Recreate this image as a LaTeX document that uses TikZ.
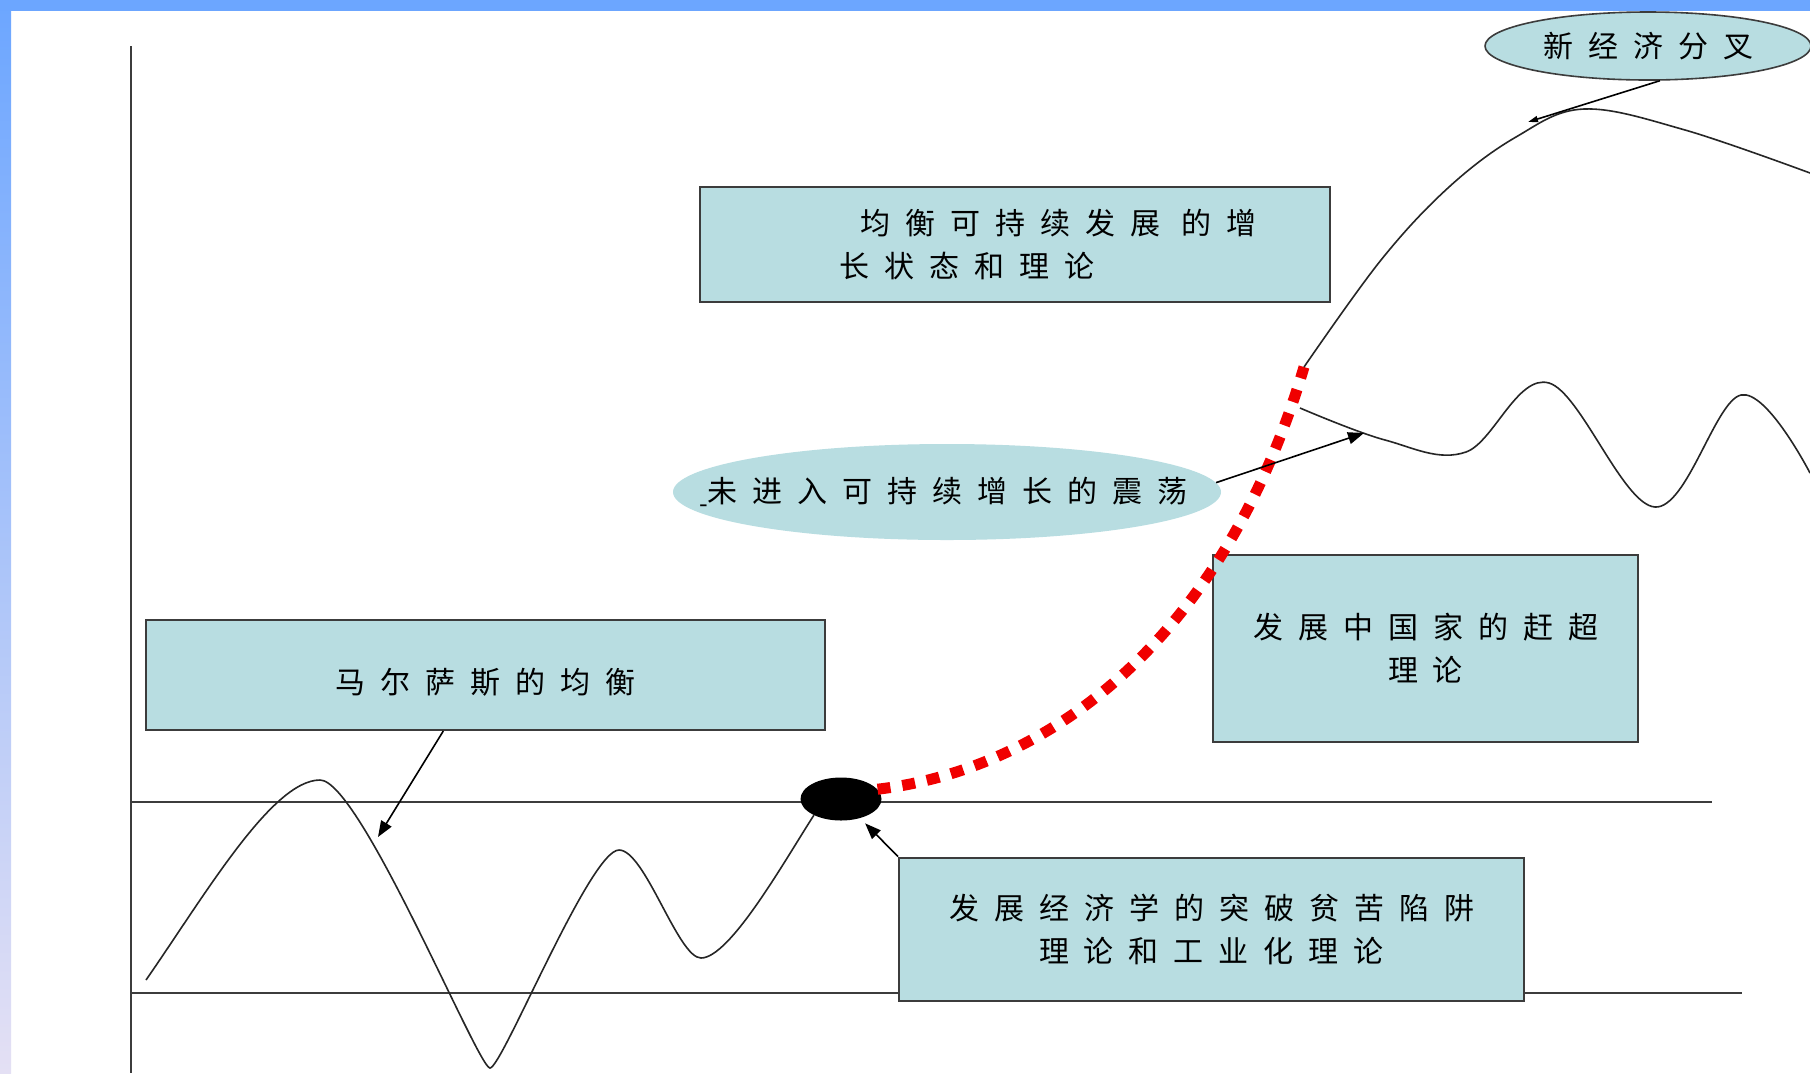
\documentclass[tikz,border=0pt]{standalone}
\usepackage{fontspec}
\newfontfamily\zhfont{Noto Sans CJK SC}[LetterSpace=50]
\newcommand\zhtext{\zhfont\fontsize{15pt}{21.5pt}\selectfont}
\usetikzlibrary{arrows.meta,shapes.geometric}
\definecolor{boxfill}{RGB}{184,221,225}
\definecolor{framedark}{RGB}{60,60,60}
\definecolor{bandblue}{RGB}{108,166,255}
\definecolor{bandpale}{RGB}{228,224,244}
\definecolor{pathred}{RGB}{240,0,0}

\begin{document}
\begin{tikzpicture}[
    x=0.5pt, y=-0.5pt,
    box/.style={rectangle, draw=framedark, line width=1pt, fill=boxfill, inner sep=0pt, align=center, font=\zhtext},
    bubble/.style={ellipse, fill=boxfill, inner sep=0pt, font=\zhtext},
    axis/.style={draw=framedark, line width=1.2pt},
    curve/.style={draw=black!85, line width=0.8pt},
    arrow/.style={-{Triangle[length=8pt,width=6pt]}, black, line width=0.8pt},
    takeoff/.style={draw=pathred, line width=5.5pt, dash pattern=on 6.5pt off 6pt}
]
\useasboundingbox (0,0) rectangle (1810,1073);

% Slide frame
\fill[white] (0,0) rectangle (1810,1073);
\shade[top color=bandblue, bottom color=bandpale] (0,0) rectangle (11,1073);
\fill[bandblue] (0,0) rectangle (1810,11);

% Axes and the two trap lines
\draw[axis] (131,46) -- (131,1073);
\draw[axis] (131,802) -- (1712,802);
\draw[axis] (131,993) -- (1742,993);

% Boxes
\node[box, minimum width=315pt, minimum height=57.5pt, text width=300pt, align=left] (growth) at (1015,244.5)
    {\hspace*{72.5pt}均衡可持续发展\hspace{11pt}的增\\\hspace*{62pt}长状态和理论};
\node[box, minimum width=339.5pt, minimum height=55pt] (malthus) at (485.5,675)
    {\raisebox{-3.5pt}[\height][\depth]{马尔萨斯的均衡}};
\node[box, minimum width=212.5pt, minimum height=93.5pt] (catchup) at (1425.5,648.5) {发展中国家的赶超\\理论};
\node[box, minimum width=312.5pt, minimum height=71.5pt] (poverty) at (1211.5,929)
    {发展经济学的突破贫苦陷阱\\理论和工业化理论};

% Ellipses
\node[bubble, draw=framedark, line width=0.8pt, minimum width=163pt, minimum height=34pt] (fork) at (1648,46)
    {\makebox[0pt]{新经济分叉}};
\node[bubble, minimum width=274pt, minimum height=48pt] (vibrate) at (947,492)
    {\makebox[0pt]{\llap{\scalebox{0.4}[1]{\_}}未进入可持续增长的震荡}};
\node[ellipse, fill=black, minimum width=40.5pt, minimum height=21.5pt, inner sep=0pt] (dot) at (841,799) {};

% Curves
\coordinate (takeoffend) at (1304,367);
\draw[curve] (146,980) .. controls (205,895) and (272,780) .. (320,780)
    .. controls (360,780) and (478,1068) .. (490,1068)
    .. controls (502,1068) and (590,850) .. (619,850)
    .. controls (645,850) and (678,958) .. (701,958)
    .. controls (730,958) and (785,860) .. (814,815);
\draw[takeoff] (dot.15) .. controls (1040,770) and (1220,650) .. (takeoffend);
\draw[curve] plot[smooth, tension=0.6] coordinates {(takeoffend) (1381,260) (1449,187) (1516,137)
    (1584,109) (1685,130) (1810,173)};
\draw[curve] plot[smooth, tension=0.6] coordinates {(1300,408) (1385,440) (1466,452) (1549,383)
    (1655,507) (1741,395) (1810,473)};

% Pointers
\coordinate (hitmal) at (378,837);
\coordinate (hitvib) at (1364,433);
\coordinate (hitfork) at (1528,122);
\draw[arrow] (malthus.233) -- (hitmal);
\draw[arrow, shorten >=3.5pt] (poverty.north west) -- (dot);
\draw[arrow] (vibrate.2) -- (hitvib);
\draw[-{Triangle[length=5pt,width=3pt]}, black, line width=0.8pt] (fork.-71) -- (hitfork);

\end{tikzpicture}
\end{document}
